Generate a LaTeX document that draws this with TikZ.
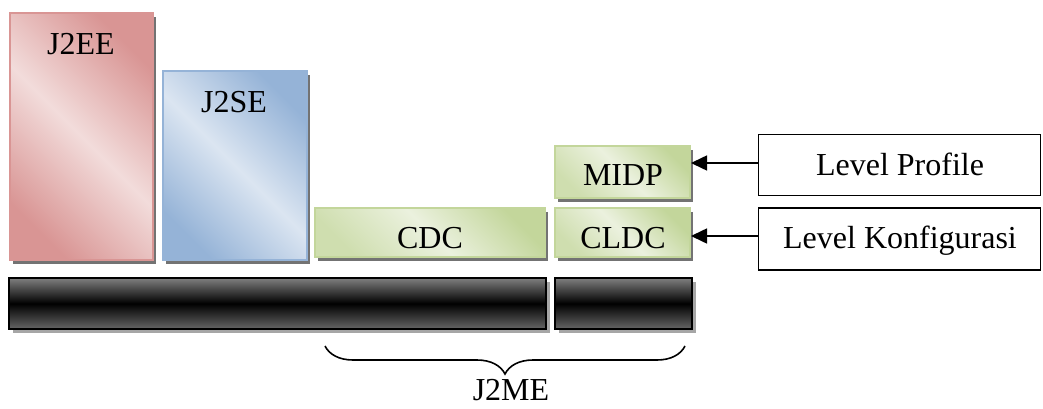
\documentclass[tikz,border=0pt]{standalone}
\usepackage{fontspec}
\setmainfont{Liberation Serif}
\usetikzlibrary{arrows.meta,decorations.pathreplacing,shadows}
\definecolor{roseB}{HTML}{D99594}
\definecolor{roseL}{HTML}{F2DCDB}
\definecolor{blueB}{HTML}{95B3D7}
\definecolor{blueL}{HTML}{DBE5F1}
\definecolor{greenB}{HTML}{C3D69B}
\definecolor{greenL}{HTML}{EBF1DE}
\tikzset{
  shbox/.style={inner sep=0pt, line width=2pt,
    drop shadow={shadow xshift=3pt, shadow yshift=-4pt, fill=black!55, opacity=1}},
  redbox/.style={shbox, draw=roseB, left color=roseB, right color=roseB, middle color=roseL, shading angle=-45},
  bluebox/.style={shbox, draw=blueB, left color=blueB, right color=blueB, middle color=blueL, shading angle=-45},
  greenbox/.style={shbox, draw=greenB, left color=greenB, right color=greenB!70!greenL, middle color=greenL, shading angle=-45},
  blackbar/.style={inner sep=0pt, line width=2pt, draw=black, top color=black!50, bottom color=black!60, middle color=black,
    drop shadow={shadow xshift=4pt, shadow yshift=-4pt, fill=black!35, opacity=1}},
  levelbox/.style={draw=black, line width=1.6pt, fill=white, inner sep=0pt},
  lbl/.style={anchor=base, inner sep=0pt, font=\fontsize{32}{38}\selectfont},
  arr/.style={line width=1.6pt, -{Triangle[length=16pt,width=15pt]}},
}
\begin{document}
\begin{tikzpicture}[x=1pt,y=-1pt]
\useasboundingbox (0,0) rectangle (1043,409);
% boxes
\node[redbox, minimum width=143pt, minimum height=247pt] (j2ee) at (81.5,136.5) {};
\node[bluebox, minimum width=144pt, minimum height=189pt] (j2se) at (235,165.5) {};
\node[greenbox, minimum width=230pt, minimum height=49pt] (cdc) at (430,232.5) {};
\node[greenbox, minimum width=135pt, minimum height=49pt] (cldc) at (622.5,232.5) {};
\node[greenbox, minimum width=135pt, minimum height=52pt] (midp) at (622.5,171.5) {};
\node[blackbar, minimum width=537pt, minimum height=51pt] (bar1) at (277.5,303.5) {};
\node[blackbar, minimum width=137pt, minimum height=51pt] (bar2) at (623.5,303.5) {};
\node[levelbox, minimum width=282pt, minimum height=61pt] (lp) at (899.5,165) {};
\node[levelbox, minimum width=282pt, minimum height=62pt] (lk) at (899.5,239) {};
% labels
\node[lbl] (t1) at (81,55) {J2EE};
\node[lbl] (t2) at (234,113) {J2SE};
\node[lbl] (t3) at (430,248) {CDC};
\node[lbl] (t4) at (623,248) {CLDC};
\node[lbl] (t5) at (623,185) {MIDP};
\node[lbl] (t6) at (900,175) {Level Profile};
\node[lbl] (t7) at (900,248) {Level Konfigurasi};
\node[lbl] (t8) at (511,400) {J2ME};
% arrows
\draw[arr] (lp.west |- 0,163) -- (midp.east |- 0,163);
\draw[arr] (lk.west |- 0,236) -- (cldc.east |- 0,236);
% brace
\coordinate (bl) at (325,346);
\coordinate (br) at (685,346);
\draw[decorate, decoration={brace, mirror, amplitude=28pt}, line width=1.6pt] (bl) -- (br);
\end{tikzpicture}
\end{document}
